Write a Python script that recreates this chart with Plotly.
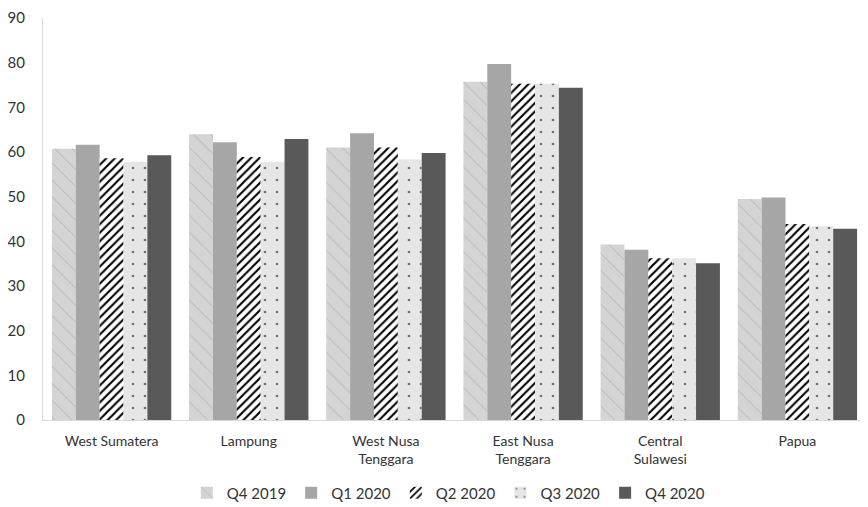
import plotly.graph_objects as go

categories = ["West Sumatera", "Lampung", "West Nusa<br>Tenggara", "East Nusa<br>Tenggara", "Central<br>Sulawesi", "Papua"]
q4_2019 = [60.7, 64.0, 61.0, 75.7, 39.3, 49.5]
q1_2020 = [61.6, 62.2, 64.2, 79.7, 38.1, 49.8]
q2_2020 = [58.6, 58.9, 61.0, 75.3, 36.2, 43.9]
q3_2020 = [57.8, 57.8, 58.3, 75.3, 36.2, 43.4]
q4_2020 = [59.3, 62.9, 59.8, 74.4, 35.1, 42.8]
series_names = ["Q4 2019", "Q1 2020", "Q2 2020", "Q3 2020", "Q4 2020"]
y_ticks = [0, 10, 20, 30, 40, 50, 60, 70, 80, 90]

styles = [
    dict(color="#d4d4d4", pattern=dict(shape="\\", fgcolor="#666666", size=12, solidity=0.05, fillmode="overlay")),
    dict(color="#a6a6a6"),
    dict(color="#ffffff", pattern=dict(shape="/", fgcolor="#000000", bgcolor="#ffffff", size=6, solidity=0.35, fillmode="replace")),
    dict(color="#e6e6e6", pattern=dict(shape=".", fgcolor="#000000", size=12, solidity=0.04, fillmode="overlay")),
    dict(color="#595959"),
]

fig = go.Figure()
for name, vals, st in zip(series_names, [q4_2019, q1_2020, q2_2020, q3_2020, q4_2020], styles):
    fig.add_trace(go.Bar(name=name, x=categories, y=vals, marker=dict(line=dict(width=0), **st)))

fig.update_layout(
    width=860, height=499,
    margin=dict(l=35, r=2, t=10, b=87),
    barmode="group", bargap=0.13, bargroupgap=0,
    plot_bgcolor="white", paper_bgcolor="white",
    font=dict(family="Lato, 'Open Sans', sans-serif", size=14, color="#333333"),
    legend=dict(orientation="h", x=0.512, xanchor="center", xref="container",
                y=0.028, yanchor="middle", yref="container",
                font=dict(size=15, color="#333333"), itemwidth=30, traceorder="normal"),
    showlegend=True,
)
fig.update_xaxes(showline=True, linecolor="#d9d9d9", linewidth=1, ticks="", tickfont=dict(size=14, color="#333333"),
                 showgrid=False, automargin=False, ticklabelstandoff=8)
fig.update_yaxes(range=[0, 90], tickvals=y_ticks, showgrid=False, showline=True, linecolor="#d9d9d9",
                 linewidth=1, ticks="", tickfont=dict(size=15, color="#333333"), zeroline=False,
                 automargin=False, ticklabelstandoff=14)

fig.write_html("out.html")
